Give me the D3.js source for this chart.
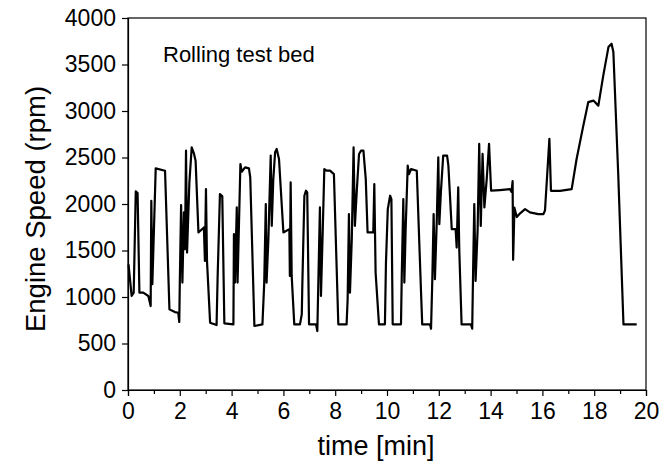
<!DOCTYPE html>
<html>
<head>
<meta charset="utf-8">
<script src="https://cdn.jsdelivr.net/npm/d3@7"></script>
<style>
  body { margin: 0; background: #fff; }
  text { font-family: "Liberation Sans", Arial, sans-serif; fill: #000; }
</style>
</head>
<body>
<div class="speed-chart"></div>
<script>
// time in minutes, engine speed in rpm
const timeMin = [0.02, 0.14, 0.22, 0.30, 0.37, 0.44, 0.59, 0.785, 0.875, 0.90, 0.94, 1.07, 1.43, 1.60, 1.81, 1.94, 1.98, 2.00, 2.05, 2.10,
  2.16, 2.20, 2.24, 2.28, 2.37, 2.46, 2.55, 2.61, 2.72, 2.93, 2.97, 3.01, 3.05, 3.17, 3.42, 3.46, 3.55, 3.64, 3.72, 4.07,
  4.09, 4.13, 4.20, 4.23, 4.34, 4.39, 4.52, 4.67, 4.72, 4.88, 5.19, 5.26, 5.32, 5.35, 5.42, 5.51, 5.55, 5.61, 5.68, 5.74,
  5.83, 6.00, 6.23, 6.25, 6.28, 6.32, 6.42, 6.64, 6.71, 6.73, 6.81, 6.87, 6.92, 6.99, 7.26, 7.31, 7.35, 7.41, 7.45, 7.52,
  7.58, 7.67, 7.80, 7.95, 8.12, 8.44, 8.48, 8.53, 8.57, 8.64, 8.71, 8.76, 8.83, 8.92, 9.00, 9.09, 9.18, 9.25, 9.47, 9.51,
  9.56, 9.69, 9.92, 9.96, 10.03, 10.12, 10.17, 10.22, 10.54, 10.57, 10.63, 10.67, 10.72, 10.80, 10.85, 10.93, 11.15, 11.31, 11.36, 11.66,
  11.70, 11.75, 11.80, 11.85, 11.92, 11.98, 12.02, 12.08, 12.17, 12.32, 12.37, 12.50, 12.65, 12.69, 12.75, 12.79, 12.88, 13.24, 13.29, 13.33,
  13.37, 13.42, 13.50, 13.56, 13.62, 13.69, 13.76, 13.85, 13.94, 14.02, 14.36, 14.75, 14.81, 14.85, 14.87, 14.92, 15.01, 15.14, 15.33, 15.52,
  15.84, 16.04, 16.10, 16.27, 16.33, 16.68, 17.13, 17.32, 17.58, 17.77, 17.97, 18.16, 18.35, 18.55, 18.67, 18.74, 18.93, 19.13, 19.64];
const speedRpm = [1350, 1011, 1047, 2136, 2118, 1047, 1047, 1011, 903, 2035, 1137, 2383, 2358, 867, 838, 831, 731, 1155, 1988, 1155,
  1909, 1514, 2573, 1478, 2233, 2610, 2538, 2466, 1694, 1748, 1388, 2160, 1388, 724, 698, 1209, 2107, 2082, 717, 706,
  1676, 1155, 1963, 1155, 2430, 2347, 2394, 2383, 2286, 688, 706, 1155, 1999, 1155, 1622, 2520, 1765, 2268, 2556, 2592,
  2484, 1694, 1730, 1227, 2233, 1227, 706, 706, 814, 1119, 2089, 2143, 2125, 706, 706, 634, 1173, 1963, 1011, 1730,
  2376, 2358, 2358, 2322, 706, 706, 975, 1891, 1047, 1622, 2610, 1765, 2125, 2538, 2573, 2573, 2268, 1694, 1694, 2214,
  1263, 706, 706, 1370, 1945, 2089, 2053, 706, 706, 1227, 2053, 1155, 1730, 2412, 2322, 2376, 2358, 1083, 706, 706,
  659, 1191, 1891, 1191, 1801, 2502, 1783, 2125, 2520, 2520, 2412, 1730, 1730, 1532, 2179, 1514, 706, 706, 659, 1370,
  1999, 1173, 1730, 2646, 1765, 2538, 1963, 2268, 2646, 2143, 2150, 2160, 2130, 2245, 1400, 1960, 1860, 1900, 1945, 1910,
  1891, 1891, 1930, 2700, 2142, 2142, 2160, 2484, 2843, 3095, 3112, 3058, 3381, 3687, 3723, 3634, 2304, 706, 706];
const xTicks = [0, 2, 4, 6, 8, 10, 12, 14, 16, 18, 20];
const xMinorTicks = [1, 3, 5, 7, 9, 11, 13, 15, 17, 19];
const yTicks = [0, 500, 1000, 1500, 2000, 2500, 3000, 3500, 4000];

const width = 672;
const height = 466;
const margin = {top: 18, right: 26, bottom: 76, left: 128};
const innerW = width - margin.left - margin.right;
const innerH = height - margin.top - margin.bottom;

const svg = d3.select('.speed-chart')
    .append('svg')
    .attr('width', width)
    .attr('height', height);

const g = svg.append('g')
    .attr('transform', `translate(${margin.left},${margin.top})`);

const x = d3.scaleLinear().domain([0, 20]).range([0, innerW]);
const y = d3.scaleLinear().domain([0, 4000]).range([innerH, 0]);

// frame
g.append('rect')
    .attr('width', innerW)
    .attr('height', innerH)
    .attr('fill', 'none')
    .attr('stroke', '#000')
    .attr('stroke-width', 1.2);

// minor x ticks
g.append('g')
    .attr('transform', `translate(0,${innerH})`)
    .call(d3.axisBottom(x).tickValues(xMinorTicks).tickSize(4).tickFormat(''))
    .call(a => a.select('.domain').remove());

const xAxis = g.append('g')
    .attr('transform', `translate(0,${innerH})`)
    .call(d3.axisBottom(x).tickValues(xTicks).tickSize(6).tickPadding(7).tickFormat(d3.format('d')));
xAxis.selectAll('text').attr('font-size', 23);

const yAxis = g.append('g')
    .call(d3.axisLeft(y).tickValues(yTicks).tickSize(6).tickPadding(6).tickFormat(d3.format('d')));
yAxis.selectAll('text').attr('font-size', 23);

svg.selectAll('.domain').attr('stroke-width', 1.2);
svg.selectAll('.tick line').attr('stroke-width', 1.2);

// data line
const pts = timeMin.map((t, i) => [t, speedRpm[i]]);
g.append('path')
    .datum(pts)
    .attr('fill', 'none')
    .attr('stroke', '#000')
    .attr('stroke-width', 2.2)
    .attr('stroke-linejoin', 'round')
    .attr('d', d3.line().x(d => x(d[0])).y(d => y(d[1])));

g.append('text')
    .attr('x', 35)
    .attr('y', 44)
    .attr('font-size', 22)
    .text('Rolling test bed');

svg.append('text')
    .attr('x', 376)
    .attr('y', 455)
    .attr('text-anchor', 'middle')
    .attr('font-size', 27)
    .text('time [min]');

svg.append('text')
    .attr('transform', 'translate(45,209) rotate(-90)')
    .attr('text-anchor', 'middle')
    .attr('font-size', 27.5)
    .text('Engine Speed (rpm)');
</script>
</body>
</html>
